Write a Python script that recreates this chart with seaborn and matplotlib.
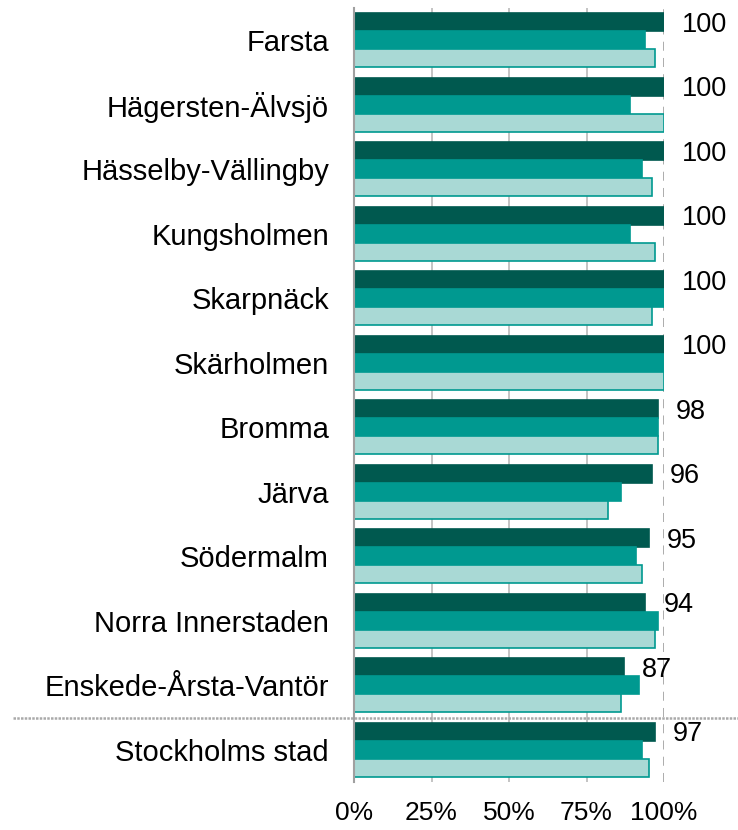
import pandas as pd
import numpy as np
import matplotlib.pyplot as plt
import seaborn as sns

# values (percent)
districts = ['Farsta', 'Hägersten-Älvsjö', 'Hässelby-Vällingby', 'Kungsholmen', 'Skarpnäck',
             'Skärholmen', 'Bromma', 'Järva', 'Södermalm', 'Norra Innerstaden',
             'Enskede-Årsta-Vantör', 'Stockholms stad']
serie_1 = [100, 100, 100, 100, 100, 100, 98, 96, 95, 94, 87, 97]
serie_2 = [94, 89, 93, 89, 100, 100, 98, 86, 91, 98, 92, 93]
serie_3 = [97, 100, 96, 97, 96, 100, 98, 82, 93, 97, 86, 95]
series = ['Serie 1', 'Serie 2', 'Serie 3']
tick_vals = [0, 25, 50, 75, 100]

df = pd.DataFrame({
    'Område': districts * 3,
    'Andel': serie_1 + serie_2 + serie_3,
    'Serie': np.repeat(series, len(districts)),
})

sns.set_style('white')
plt.rcParams['font.family'] = ['Liberation Sans', 'DejaVu Sans']
plt.rcParams['text.color'] = 'black'
plt.rcParams['xtick.color'] = 'black'
plt.rcParams['ytick.color'] = 'black'

colors = ['#00594F', '#009990', '#A9D9D5']
fig = plt.figure(figsize=(7.38, 8.3), dpi=100)
ax = fig.add_axes([354/738, 1-782/830, (664-354)/738, (782-8)/830])

sns.barplot(data=df, y='Område', x='Andel', hue='Serie', order=districts, hue_order=series,
            palette=colors, saturation=1, width=0.84, orient='h', ax=ax, legend=False, zorder=3)

# edges: light bars get a teal outline
for cont, ec in zip(ax.containers, ['#00594F', '#009990', '#009990']):
    for b in cont:
        b.set_edgecolor(ec)
        b.set_linewidth(1.2)

ax.set_xlim(0, 100)
ax.set_ylim(len(districts) - 0.5, -0.5)

# gridlines
for v in [25, 50, 75]:
    ax.axvline(v, color='#BFBFBF', lw=1.3, zorder=0)
ax.axvline(100, color='#A6A6A6', lw=1.3, ls=(0, (5, 4)), zorder=0)

# value labels next to the first series
for i, v in enumerate(serie_1):
    ax.annotate(f'{v}', xy=(v, i - 0.28), xytext=(13, -2), textcoords='offset points',
                va='center', ha='left', fontsize=19.5, color='black', annotation_clip=False)

# separator before city total
ax.plot([-110, 126], [len(districts) - 1.5] * 2, color='#AAAAAA', lw=1.8, ls=(0, (1, 0.5)),
        clip_on=False, zorder=4)

ax.set_xticks(tick_vals)
ax.set_xticklabels([f'{t}%' for t in tick_vals], fontsize=19)
ax.set_yticks(range(len(districts)))
ax.set_yticklabels(districts, fontsize=21)
ax.set_yticks(np.arange(-0.5, len(districts)), minor=True)
ax.tick_params(axis='y', which='major', length=0, pad=18)
ax.tick_params(axis='y', which='minor', length=6, width=1.3, color='#A0A0A0', direction='out')
ax.tick_params(axis='x', length=0, pad=14)
ax.set_xlabel('')
ax.set_ylabel('')

for s in ['top', 'right', 'bottom']:
    ax.spines[s].set_visible(False)
ax.spines['left'].set_color('#A0A0A0')
ax.spines['left'].set_linewidth(1.5)
ax.spines['left'].set_zorder(5)

fig.savefig('out.png', dpi=100)
